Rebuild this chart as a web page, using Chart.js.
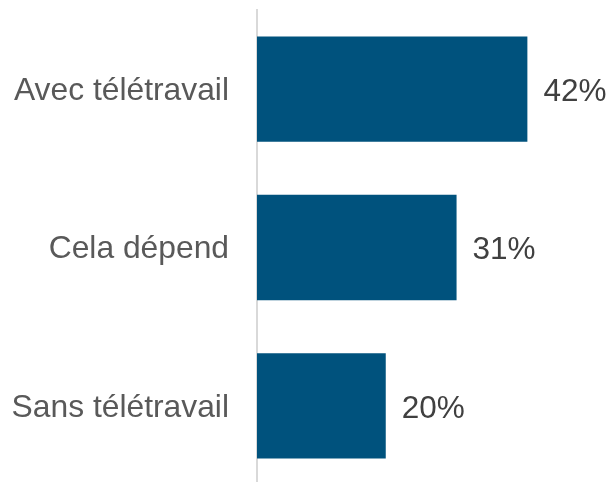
<!DOCTYPE html>
<html>
<head>
<meta charset="utf-8">
<script src="https://cdn.jsdelivr.net/npm/chart.js@4"></script>
<style>
html,body{margin:0;padding:0;background:#fff;}
#wrap{width:613px;height:482px;position:relative;}
</style>
</head>
<body>
<div id="wrap"><canvas id="c" width="613" height="482"></canvas></div>
<script>
const categories = ["Avec télétravail", "Cela dépend", "Sans télétravail"];
const values = [42, 31, 20];
const valueLabels = ["42%", "31%", "20%"];

const dataLabelPlugin = {
  id: 'dataLabels',
  afterLayout(chart) {
    const s = chart.scales.y;
    s.bottom = 485;
    s.height = s.bottom - s.top;
    s.configure();
    chart.chartArea.bottom = 485;
    chart.chartArea.height = chart.chartArea.bottom - chart.chartArea.top;
  },
  afterDatasetsDraw(chart) {
    const ctx = chart.ctx;
    const meta = chart.getDatasetMeta(0);
    ctx.save();
    ctx.font = '31.5px "Liberation Sans", Arial, sans-serif';
    ctx.fillStyle = '#404040';
    ctx.textAlign = 'left';
    ctx.textBaseline = 'middle';
    meta.data.forEach((bar, i) => {
      ctx.fillText(valueLabels[i], bar.x + 16, bar.y + 3);
    });
    ctx.restore();
  }
};

new Chart(document.getElementById('c'), {
  type: 'bar',
  data: {
    labels: categories,
    datasets: [{
      data: values,
      backgroundColor: '#00527D',
      borderWidth: 0,
      categoryPercentage: 1,
      barPercentage: 0.665
    }]
  },
  options: {
    indexAxis: 'y',
    responsive: false,
    animation: false,
    layout: { padding: { top: 10, bottom: 0, left: 0, right: 0 } },
    plugins: { legend: { display: false }, tooltip: { enabled: false } },
    scales: {
      x: {
        display: false,
        min: 0,
        max: 55.3
      },
      y: {
        afterFit(scale) { scale.width = 257; scale.paddingTop = 0; scale.paddingBottom = 0; },
        grid: { display: false, drawTicks: false },
        border: { display: true, color: '#d9d9d9', width: 2 },
        ticks: {
          color: '#595959',
          font: { family: '"Liberation Sans", Arial, sans-serif', size: 31.8 },
          padding: 28,
          labelOffset: 2
        }
      }
    }
  },
  plugins: [dataLabelPlugin]
});
</script>
</body>
</html>
